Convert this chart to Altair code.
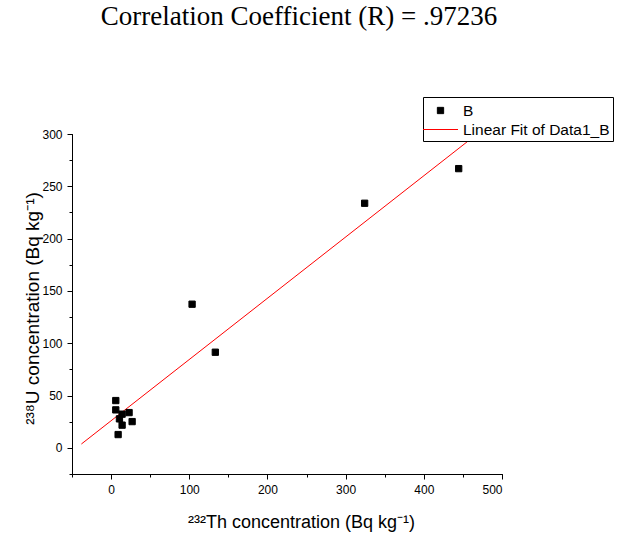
import altair as alt
import pandas as pd

# 232Th and 238U activity concentrations (Bq/kg)
th232 = [103.6, 133.3, 324.3, 444.6, 6.0, 6.0, 23.0, 26.9, 14.1, 10.7, 14.1, 9.0]
u238 = [137.3, 91.4, 233.8, 266.9, 45.2, 36.3, 33.7, 25.1, 32.2, 27.7, 21.7, 12.7]

series_names = ["B", "Linear Fit of Data1_B"]
series_colors = ["#000000", "#FF0000"]
fit_extent = [-38, 465]

x_minor = list(range(-50, 501, 50))
x_major = list(range(0, 501, 100))
y_minor = list(range(-25, 301, 25))
y_major = list(range(0, 301, 50))

# symbol paths (unit = half the symbol size): small square for samples,
# horizontal stroke for the fit
SQUARE = "M-0.315,-0.315H0.315V0.315H-0.315Z"
STROKE = "M-1.75,0H1.75"

df = pd.DataFrame({"th": th232, "u": u238})
df["series"] = series_names[0]

x_scale = alt.Scale(domain=[-50, 500], nice=False, zero=False)
y_scale = alt.Scale(domain=[-25, 300], nice=False, zero=False)
color_scale = alt.Scale(domain=series_names, range=series_colors)
shape_scale = alt.Scale(domain=series_names, range=[SQUARE, STROKE])

legend = alt.Legend(
    title=None,
    orient="none",
    legendX=351,
    legendY=-37,
    fillColor="white",
    strokeColor="black",
    padding=3,
    symbolSize=400,
    symbolStrokeWidth=1,
    symbolOffset=4,
    labelOffset=12,
    labelFont="Liberation Sans",
    labelFontSize=15.5,
    labelColor="black",
    rowPadding=0,
)

# minor ticks (short, unlabeled) on the fit layer
x_axis_minor = alt.Axis(orient="bottom", values=x_minor, labels=False, tickSize=3, title=None)
y_axis_minor = alt.Axis(orient="left", values=y_minor, labels=False, tickSize=3, title=None)

# major ticks with labels and titles on the sample layer
x_axis = alt.Axis(
    orient="bottom",
    values=x_major,
    tickSize=5,
    labelPadding=5,
    title="²³²Th concentration (Bq kg⁻¹)",
    titleFontSize=18,
    titleX=229,
    titleY=53,
    titleBaseline="alphabetic",
    titleAlign="center",
)
y_axis = alt.Axis(
    orient="left",
    values=y_major,
    tickSize=5,
    labelPadding=5,
    title="²³⁸U concentration (Bq kg⁻¹)",
    titleFontSize=19,
    titleX=-34,
    titleY=174,
    titleAngle=-90,
    titleBaseline="alphabetic",
    titleAlign="center",
)

points = alt.Chart(df).mark_point(size=400, strokeWidth=1, opacity=1).encode(
    x=alt.X("th:Q", scale=x_scale, axis=x_axis),
    y=alt.Y("u:Q", scale=y_scale, axis=y_axis),
    fill=alt.Fill("series:N", scale=color_scale, legend=legend),
    stroke=alt.Stroke("series:N", scale=color_scale, legend=legend),
    shape=alt.Shape("series:N", scale=shape_scale, legend=legend),
)

fit = (
    alt.Chart(df)
    .transform_regression("th", "u", extent=fit_extent)
    .transform_calculate(series=f"'{series_names[1]}'")
    .mark_line(strokeWidth=1)
    .encode(
        x=alt.X("th:Q", scale=x_scale, axis=x_axis_minor),
        y=alt.Y("u:Q", scale=y_scale, axis=y_axis_minor),
        stroke=alt.Stroke("series:N", scale=color_scale, legend=legend),
    )
)

chart = (
    alt.layer(fit, points)
    .resolve_axis(x="independent", y="independent")
    .properties(
        width=430,
        height=340,
        autosize=alt.AutoSizeParams(type="none"),
        padding={"left": 72, "top": 134, "right": 125, "bottom": 59},
        title=alt.TitleParams(
            "Correlation Coefficient (R) = .97236",
            font="Liberation Serif",
            fontSize=27,
            fontWeight="normal",
            color="black",
            anchor="middle",
            frame="group",
            dx=12,
            offset=66,
        ),
    )
    .configure_view(stroke=None)
    .configure_axis(
        grid=False,
        domainColor="black",
        tickColor="black",
        domainWidth=1,
        tickWidth=1,
        labelFont="Liberation Sans",
        labelFontSize=12,
        labelColor="black",
        titleFont="Liberation Sans",
        titleFontWeight="normal",
        titleColor="black",
    )
)

chart.save("out.html", embed_options={"renderer": "svg", "actions": False})
